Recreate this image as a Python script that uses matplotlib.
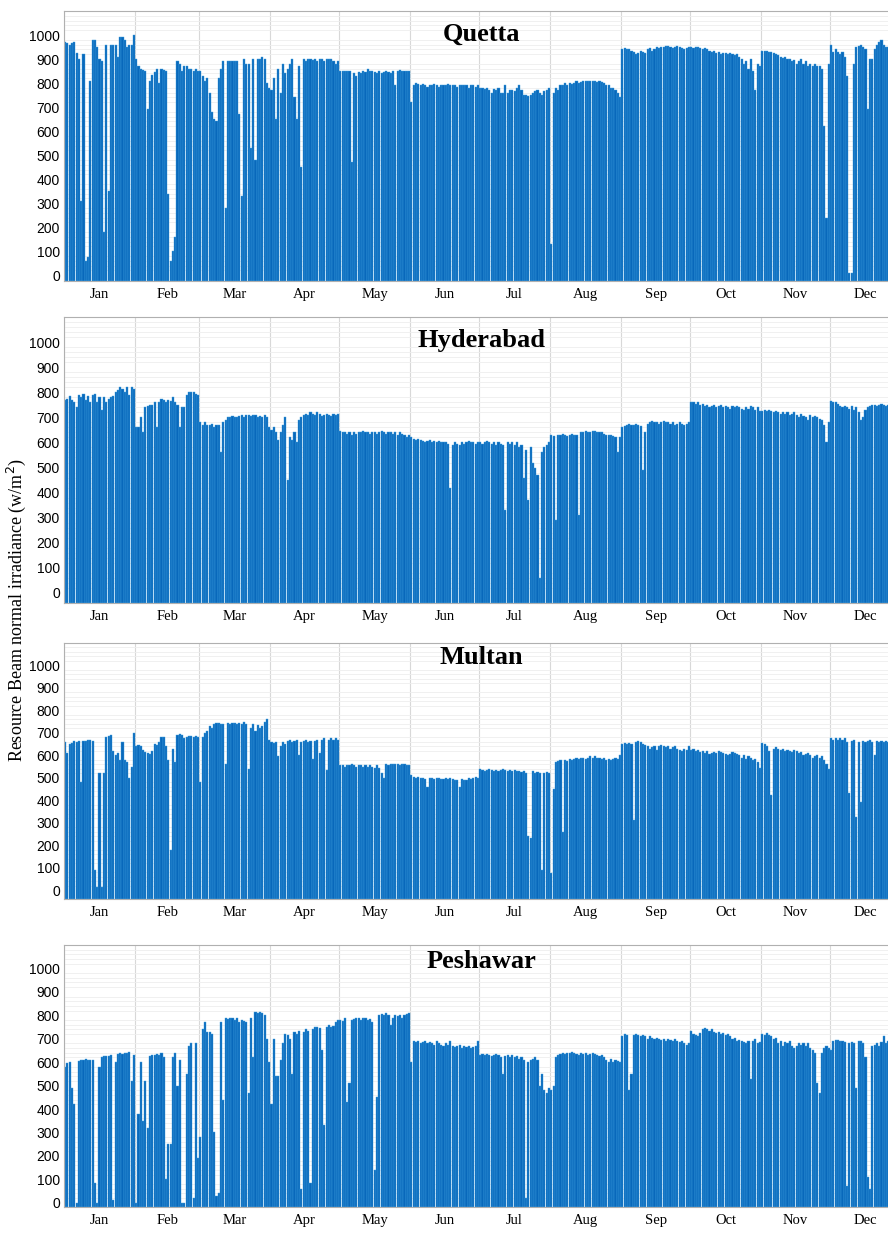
import numpy as np
import matplotlib.pyplot as plt

# daily peak beam normal irradiance (W/m2), one value per day
quetta = [
    970, 965, 960, 965, 970, 925, 900, 310, 920, 60, 75, 810, 980, 980, 950, 900, 890, 180, 960, 350, 960, 960, 960, 910, 990, 990, 980, 950, 960, 960, 1000,
    900, 870, 860, 855, 850, 690, 810, 835, 845, 860, 800, 860, 855, 850, 340, 60, 100, 160, 890, 880, 850, 870, 870, 860, 860, 850, 860, 850,
    850, 830, 810, 820, 760, 680, 650, 640, 820, 860, 890, 280, 890, 890, 890, 890, 890, 670, 330, 900, 880, 880, 530, 900, 480, 900, 900, 910, 900, 800, 780,
    770, 820, 650, 860, 760, 880, 840, 860, 880, 900, 740, 650, 870, 450, 900, 890, 900, 900, 895, 900, 890, 900, 900, 890, 900, 900, 900, 890, 880, 890,
    850, 850, 850, 850, 850, 470, 840, 830, 845, 840, 850, 845, 860, 850, 850, 845, 840, 850, 840, 845, 850, 845, 840, 850, 790, 850, 855, 850, 850, 850, 850,
    720, 790, 800, 795, 790, 795, 790, 785, 790, 790, 795, 790, 785, 790, 790, 790, 795, 790, 790, 790, 785, 790, 790, 790, 790, 780, 790, 790, 785, 790,
    780, 780, 775, 780, 770, 760, 775, 770, 780, 760, 760, 790, 760, 770, 770, 765, 780, 790, 770, 750, 750, 745, 750, 760, 765, 770, 760, 750, 765, 770, 780,
    130, 760, 780, 770, 790, 790, 800, 790, 800, 795, 800, 810, 800, 805, 810, 810, 810, 810, 810, 810, 805, 810, 805, 800, 790, 790, 780, 780, 770, 760, 740,
    940, 945, 940, 940, 935, 930, 920, 925, 935, 930, 925, 940, 945, 935, 940, 950, 945, 950, 950, 955, 955, 950, 945, 950, 955, 950, 945, 940, 945, 950,
    950, 945, 950, 950, 945, 940, 945, 940, 935, 930, 935, 925, 930, 920, 925, 925, 920, 925, 920, 915, 920, 910, 900, 880, 890, 860, 900, 850, 770, 880, 870,
    935, 935, 935, 930, 930, 925, 920, 915, 910, 905, 910, 900, 900, 890, 895, 880, 890, 900, 880, 890, 870, 880, 870, 880, 870, 870, 860, 620, 240, 880,
    960, 930, 940, 930, 920, 930, 910, 830, 10, 10, 880, 950, 955, 960, 950, 940, 690, 900, 900, 940, 960, 970, 980, 960, 950, 950, 960, 950, 940, 960, 950,
]
hyderabad = [
    770, 775, 785, 770, 760, 740, 790, 780, 795, 770, 785, 760, 790, 795, 760, 780, 730, 780, 760, 775, 780, 785, 800, 810, 820, 815, 800, 820, 790, 820, 815,
    660, 660, 700, 640, 740, 745, 750, 750, 760, 660, 760, 775, 770, 760, 770, 765, 780, 760, 750, 660, 740, 740, 790, 800, 800, 800, 795, 790,
    680, 670, 680, 670, 670, 675, 660, 670, 670, 560, 680, 690, 700, 700, 705, 700, 700, 705, 710, 700, 710, 710, 705, 710, 710, 700, 705, 700, 710, 700, 660,
    650, 660, 640, 610, 640, 670, 700, 450, 620, 610, 640, 600, 690, 700, 710, 715, 710, 720, 715, 710, 720, 715, 705, 710, 715, 710, 705, 715, 710, 715,
    645, 640, 640, 635, 640, 630, 640, 635, 640, 640, 645, 640, 640, 635, 640, 640, 635, 640, 645, 640, 635, 640, 640, 635, 640, 630, 640, 635, 630, 620, 630,
    620, 615, 610, 615, 610, 605, 600, 605, 610, 600, 605, 600, 605, 600, 600, 600, 595, 420, 590, 600, 595, 590, 600, 595, 600, 605, 600, 600, 595, 600,
    600, 595, 600, 605, 600, 595, 600, 590, 600, 595, 590, 330, 600, 595, 600, 590, 600, 580, 590, 460, 570, 370, 580, 520, 500, 470, 60, 560, 580, 590, 600,
    630, 625, 290, 630, 630, 635, 630, 625, 630, 635, 630, 630, 310, 640, 640, 645, 640, 640, 645, 645, 640, 640, 640, 635, 630, 630, 630, 625, 620, 560, 620,
    660, 665, 670, 675, 670, 670, 675, 670, 665, 490, 640, 675, 680, 685, 680, 680, 675, 680, 685, 680, 680, 675, 680, 670, 675, 680, 675, 670, 675, 680,
    760, 760, 755, 760, 750, 755, 745, 750, 740, 745, 750, 740, 745, 750, 740, 745, 740, 735, 745, 740, 745, 740, 735, 730, 740, 735, 745, 740, 730, 740, 725,
    725, 730, 725, 730, 725, 720, 725, 720, 715, 720, 715, 720, 710, 715, 720, 710, 700, 715, 705, 700, 690, 710, 700, 705, 700, 695, 690, 670, 600, 680,
    765, 760, 760, 755, 745, 740, 745, 740, 735, 745, 730, 740, 720, 690, 700, 730, 740, 745, 750, 750, 745, 750, 755, 750, 745, 750, 750, 745, 750, 745, 750,
]
multan = [
    660, 610, 650, 655, 665, 660, 665, 480, 665, 665, 670, 670, 665, 90, 15, 520, 15, 520, 680, 685, 690, 620, 600, 610, 580, 660, 580, 570, 500, 550, 700,
    640, 645, 640, 625, 615, 610, 605, 620, 650, 645, 660, 680, 680, 640, 580, 180, 630, 570, 690, 695, 690, 675, 680, 685, 685, 680, 685, 680,
    480, 680, 700, 710, 730, 720, 740, 745, 745, 740, 740, 560, 745, 740, 745, 745, 740, 745, 740, 750, 740, 540, 720, 740, 710, 735, 720, 730, 750, 760, 670,
    660, 655, 660, 595, 640, 660, 650, 665, 670, 660, 665, 670, 600, 660, 665, 670, 660, 665, 585, 665, 670, 610, 670, 675, 535, 670, 675, 670, 675, 670,
    555, 555, 550, 555, 555, 560, 555, 550, 555, 555, 550, 555, 550, 555, 550, 545, 555, 545, 520, 500, 560, 555, 560, 560, 560, 560, 555, 560, 560, 555, 555,
    510, 505, 500, 505, 500, 500, 495, 460, 500, 500, 495, 500, 500, 495, 495, 500, 495, 500, 495, 490, 490, 460, 495, 490, 490, 500, 495, 500, 505, 500,
    540, 535, 530, 535, 540, 535, 530, 535, 530, 535, 540, 535, 530, 535, 530, 535, 530, 530, 525, 530, 520, 240, 230, 530, 520, 525, 520, 90, 520, 525, 520,
    75, 450, 570, 575, 580, 260, 580, 575, 585, 580, 585, 590, 585, 590, 590, 585, 590, 595, 590, 595, 590, 590, 585, 590, 580, 585, 580, 585, 590, 585, 600,
    650, 655, 650, 655, 650, 310, 660, 665, 660, 650, 645, 640, 630, 635, 640, 625, 640, 645, 640, 635, 640, 630, 635, 640, 630, 625, 620, 630, 625, 640,
    625, 630, 620, 625, 615, 620, 610, 620, 605, 610, 615, 610, 620, 615, 610, 605, 600, 605, 615, 610, 605, 600, 590, 600, 585, 595, 590, 580, 585, 570, 545,
    655, 650, 640, 620, 425, 630, 635, 630, 625, 630, 620, 625, 620, 615, 625, 620, 610, 615, 600, 605, 610, 600, 590, 595, 600, 590, 595, 580, 560, 540,
    675, 670, 675, 670, 675, 670, 675, 660, 430, 665, 670, 325, 660, 390, 665, 660, 665, 670, 660, 600, 665, 660, 665, 660, 665, 660, 665, 660, 665, 660, 665,
]
peshawar = [
    580, 595, 600, 490, 420, 0, 605, 610, 610, 615, 610, 610, 610, 85, 0, 580, 620, 625, 625, 625, 630, 10, 600, 635, 640, 635, 640, 640, 645, 520, 630,
    0, 380, 600, 350, 520, 320, 625, 630, 630, 635, 630, 640, 620, 100, 250, 250, 620, 640, 500, 610, 0, 0, 550, 670, 680, 20, 680, 190,
    280, 740, 770, 730, 730, 720, 300, 30, 40, 770, 440, 790, 785, 790, 790, 780, 790, 770, 780, 775, 770, 470, 790, 620, 815, 810, 815, 810, 800, 700, 600,
    420, 700, 540, 540, 610, 680, 720, 715, 700, 550, 730, 720, 735, 60, 730, 740, 735, 85, 740, 750, 750, 745, 650, 330, 750, 760, 750, 755, 770, 780,
    780, 775, 790, 430, 510, 780, 785, 790, 790, 780, 790, 790, 780, 785, 770, 140, 450, 800, 805, 800, 810, 800, 760, 790, 800, 795, 800, 790, 800, 805, 810,
    600, 690, 685, 690, 680, 685, 690, 680, 685, 680, 675, 690, 680, 675, 670, 680, 675, 690, 670, 665, 670, 675, 660, 670, 665, 670, 660, 665, 670, 690,
    630, 635, 630, 635, 630, 625, 630, 635, 630, 620, 550, 625, 630, 620, 630, 620, 625, 615, 620, 610, 20, 600, 610, 615, 620, 610, 500, 550, 480, 470, 490,
    480, 500, 620, 630, 635, 640, 635, 640, 640, 645, 640, 635, 630, 640, 635, 640, 630, 635, 640, 635, 630, 625, 630, 620, 610, 600, 615, 600, 610, 605, 600,
    710, 720, 715, 480, 550, 715, 720, 715, 710, 715, 710, 700, 710, 705, 700, 705, 700, 695, 700, 690, 700, 695, 690, 700, 690, 685, 690, 680, 675, 680,
    735, 720, 715, 710, 725, 740, 745, 740, 735, 740, 730, 725, 730, 720, 725, 715, 720, 710, 700, 705, 690, 695, 690, 685, 680, 690, 530, 690, 700, 680, 685,
    720, 715, 725, 715, 710, 700, 705, 680, 690, 670, 685, 680, 690, 670, 660, 670, 680, 675, 680, 670, 680, 660, 650, 640, 510, 470, 640, 660, 670, 660,
    650, 690, 695, 695, 690, 690, 685, 70, 680, 685, 680, 490, 690, 690, 680, 620, 110, 60, 670, 675, 680, 670, 685, 710, 680, 690, 680, 690, 685, 690, 680,
]

cities = ["Quetta", "Hyderabad", "Multan", "Peshawar"]
months = ["Jan", "Feb", "Mar", "Apr", "May", "Jun", "Jul", "Aug", "Sep", "Oct", "Nov", "Dec"]
month_days = [31, 28, 31, 30, 31, 30, 31, 31, 30, 31, 30, 31]
series = [quetta, hyderabad, multan, peshawar]

W, H = 888, 1234
# panel frames in pixels: top, bottom, then y-limits
frames = [(11, 281, -24, 1048), (317, 603, -40, 1091), (643, 899, -40, 1008), (945, 1207, -18, 1050)]
title_y = [34, 340, 658, 962]

edges = np.concatenate([[0], np.cumsum(month_days)])
mids = (edges[:-1] + edges[1:]) / 2

fig = plt.figure(figsize=(W / 100, H / 100), dpi=100)

for name, vals, (top, bot, ylo, yhi), ty in zip(cities, series, frames, title_y):
    vals = np.array(vals, dtype=float)
    assert len(vals) == 365, (name, len(vals))
    ax = fig.add_axes([64 / W, 1 - bot / H, (901 - 64) / W, (bot - top) / H])
    days = np.arange(len(vals)) + 0.5
    # one bar per day, pale seams between days like the original area plot
    ax.bar(days, vals - ylo, bottom=ylo, width=0.92, color="#0868bb",
           edgecolor="#3f9fe0", linewidth=0.3, zorder=2)
    ax.set_xlim(0, 365)
    ax.set_ylim(ylo, yhi)

    ax.set_xticks(edges)
    ax.set_xticklabels([])
    ax.set_xticks(mids, minor=True)
    ax.set_xticklabels(months, minor=True, fontfamily="Liberation Serif", fontsize=10.5)
    ax.tick_params(axis="x", which="both", length=0, pad=5)
    ax.grid(axis="x", which="major", color="#d8d8d8", linewidth=0.8, zorder=0)

    ax.set_yticks(np.arange(0, 1001, 100))
    ax.set_yticks(np.arange(0, 1101, 20), minor=True)
    ax.grid(axis="y", which="minor", color="#eeeeee", linewidth=0.6, zorder=0)
    ax.tick_params(axis="y", which="both", length=0, pad=3, labelsize=10)
    for lab in ax.get_yticklabels():
        lab.set_fontfamily("Liberation Sans")

    for s in ax.spines.values():
        s.set_color("#b0b0b0")
        s.set_linewidth(0.8)

    fig.text(481 / W, 1 - ty / H, name, ha="center", va="center",
             fontfamily="Liberation Serif", fontweight="bold", fontsize=19)

fig.text(16 / W, 1 - 610 / H, "Resource Beam normal irradiance (w/m$^2$)", rotation=90,
         ha="center", va="center", fontfamily="Liberation Serif", fontsize=13)

fig.savefig("out.png", dpi=100)
